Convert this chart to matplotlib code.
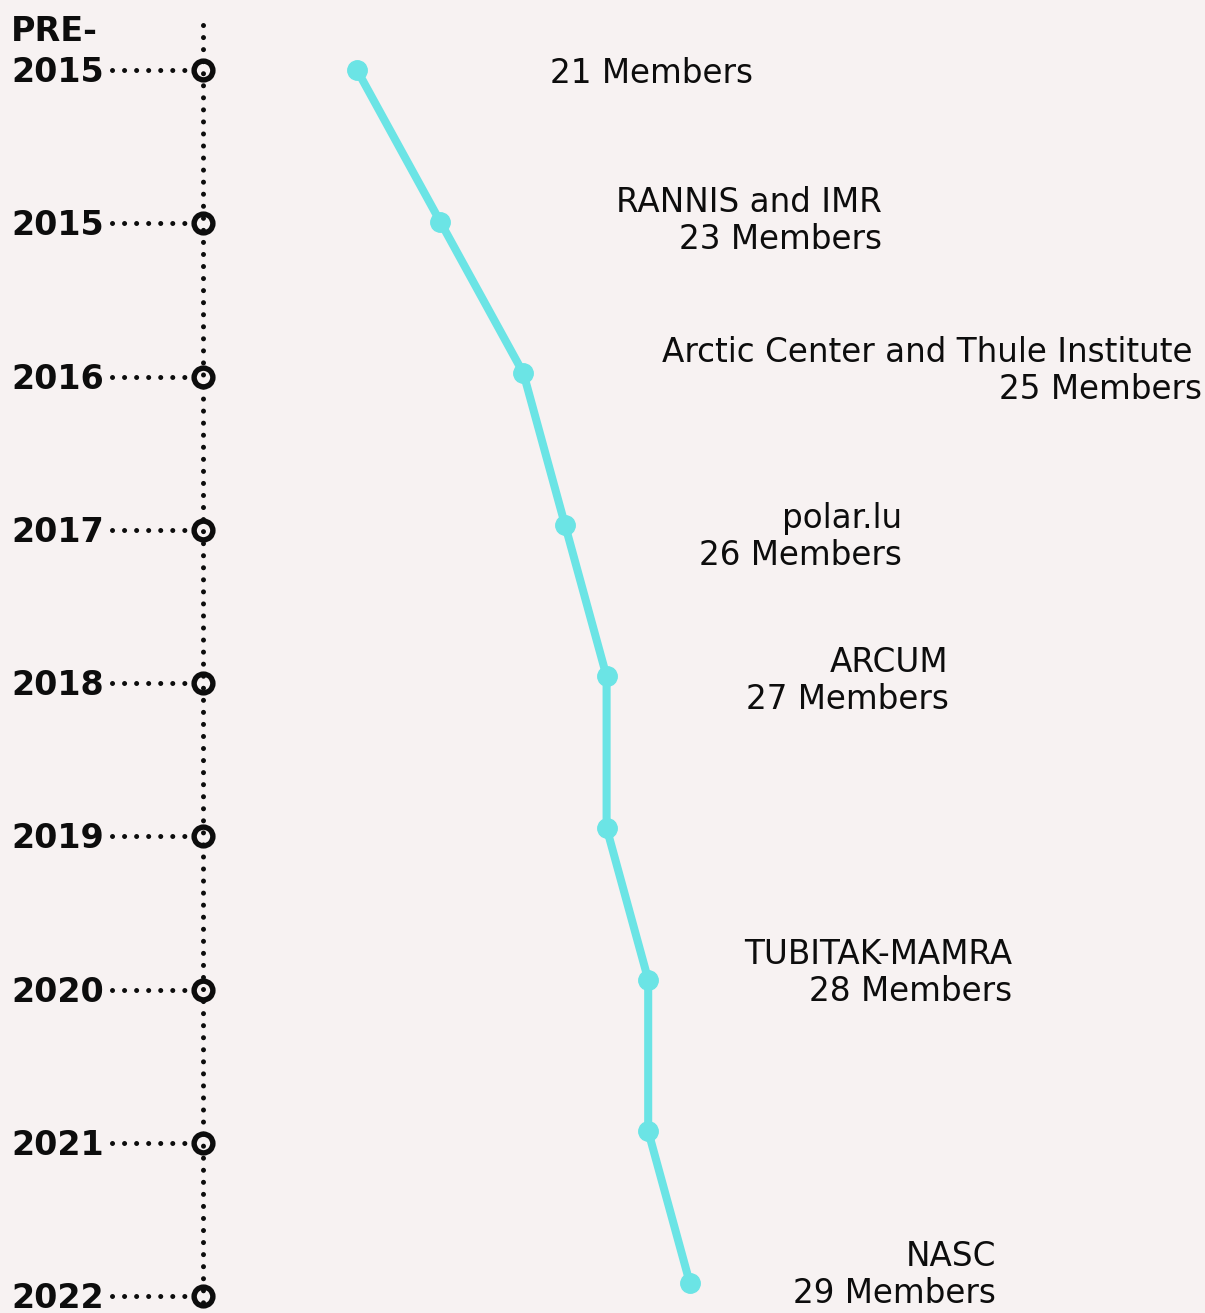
import matplotlib
matplotlib.use('Agg')
import matplotlib.pyplot as plt

# ── Data ────────────────────────────────────────────────────────────────────
years = ["PRE-\n2015", "2015", "2016", "2017", "2018", "2019", "2020", "2021", "2022"]
members = [21, 23, 25, 26, 27, 27, 28, 28, 29]
joined = ["", "RANNIS and IMR", "Arctic Center and Thule Institute ", "polar.lu",
          "ARCUM", None, "TUBITAK-MAMRA", None, "NASC"]

# ── Layout (pixels) ─────────────────────────────────────────────────────────
W, H = 1205, 1313
X0_PX, PX_PER_MEMBER = 357, 41.6      # pixel x of 21 members, spacing
Y0_PX, PX_PER_ROW = 70, 151.6         # pixel y of first row, row spacing
TL_STRETCH = 1.011                    # timeline rows run slightly wider
AXIS_X = 203 / W
YEAR_X = 104 / W
LEADER_X0 = 112 / W
# label anchor offsets (dx right edge, dy) from each point, in pixels
label_offsets = [(396, -3), (442, 1), (679, 2), (337, -12), (342, -5), None,
                 (364, 7), None, (306, 8)]

BG = '#f7f2f2'
CYAN = '#6be4e5'
INK = '#0d0d0d'

fig = plt.figure(figsize=(W / 100, H / 100), dpi=100)
fig.patch.set_facecolor(BG)
ax = fig.add_axes([0, 0, 1, 1])
ax.set_facecolor(BG)
ax.set_xlim(21 - X0_PX / PX_PER_MEMBER, 21 + (W - X0_PX) / PX_PER_MEMBER)
ax.set_ylim((H - Y0_PX) / PX_PER_ROW, -Y0_PX / PX_PER_ROW)
ax.axis('off')

rows = list(range(len(years)))
tl_rows = [r * TL_STRETCH for r in rows]
ytr = ax.get_yaxis_transform()

# ── Timeline ────────────────────────────────────────────────────────────────
dot = dict(color=INK, lw=3.6, ls=(0, (0.01, 2.4)), dash_capstyle='round')
ax.plot([AXIS_X, AXIS_X], [1 - 25 / H, 0], transform=ax.transAxes, **dot)
for r in tl_rows:
    ax.plot([LEADER_X0, AXIS_X - 8 / W], [r, r], transform=ytr, **dot)
ax.plot([AXIS_X] * len(tl_rows), tl_rows, transform=ytr, ls='none', marker='o',
        ms=13.5, mfc='none', mec=INK, mew=3.9, zorder=3)
for r, y in zip(tl_rows, years):
    ax.annotate(y, xy=(YEAR_X, r), xycoords=ytr, xytext=(0, -12),
                textcoords='offset pixels', ha='right', va='baseline',
                multialignment='left', fontsize=24, fontweight='bold',
                color=INK, family='DejaVu Sans', linespacing=1.3)

# ── Membership line ─────────────────────────────────────────────────────────
ax.plot(members, rows, color=CYAN, lw=5.8, marker='o', ms=14, zorder=4,
        solid_capstyle='round', solid_joinstyle='round')

for r, m, name, off in zip(rows, members, joined, label_offsets):
    if name is None:
        continue
    txt = f"{m} Members" if name == "" else f"{name}\n{m} Members"
    ax.annotate(txt, xy=(m, r), xytext=off, textcoords='offset pixels',
                ha='right', va='center', multialignment='right',
                fontsize=23.5, color=INK, family='DejaVu Sans', linespacing=1.15)

fig.savefig('out.png', dpi=100, facecolor=BG)
